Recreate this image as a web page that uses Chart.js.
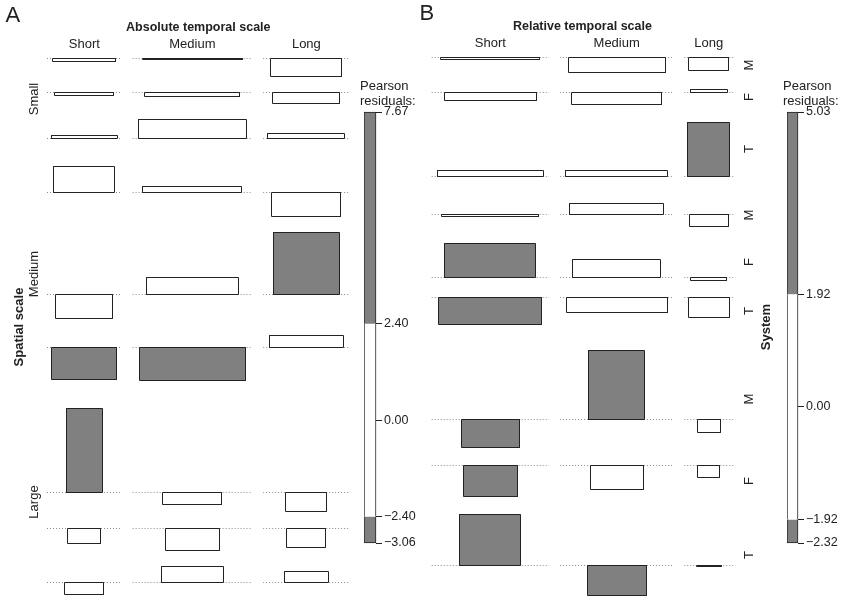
<!DOCTYPE html>
<html>
<head>
<meta charset="utf-8">
<title>Association plots: temporal scale vs spatial scale and system</title>
<script src="https://cdn.jsdelivr.net/npm/chart.js@4/dist/chart.umd.min.js"></script>
<style>
  html, body { margin: 0; padding: 0; background: #fff; }
  #fig { position: relative; width: 846px; height: 597px; overflow: hidden;
         font-family: "Liberation Sans", Arial, Helvetica, sans-serif; color: #222; }
  #fig canvas { position: absolute; }
  .lbl { position: absolute; white-space: nowrap; line-height: 1; }
</style>
</head>
<body>
<div id="fig">
  <canvas id="main" width="846" height="597" style="left:0;top:0"></canvas>
  <canvas id="legA" width="58" height="455"></canvas>
  <canvas id="legB" width="57" height="455"></canvas>
</div>
<script>
// ---------------- data ----------------
const temporalLevels = ['Short', 'Medium', 'Long'];
const spatialLevels = ['Small', 'Medium', 'Large'];
const systemLevels = ['M', 'F', 'T'];

// Absolute temporal scale: Pearson residuals per temporal column.
// Rows run spatial scale x system: Small M, Small F, Small T, Medium M, ... Large T
const absShortResid  = [-0.25, -0.25, 0.28, 2.35, -2.20, -2.95, 7.67, -1.45, -1.10];
const absMediumResid = [-0.10, -0.38, 1.73, 0.55, 1.60, -3.06, -1.10, -2.05, 1.45];
const absLongResid   = [-1.64, -1.00, 0.45, -2.20, 5.72, 1.10, -1.80, -1.75, 1.05];
// box widths (square root of the expected counts)
const absShortWidth  = [6.3, 5.9, 6.6, 6.1, 5.7, 6.5, 3.6, 3.3, 3.9];
const absMediumWidth = [10.0, 9.5, 10.8, 9.9, 9.2, 10.6, 5.9, 5.4, 6.2];
const absLongWidth   = [7.1, 6.7, 7.7, 6.9, 6.6, 7.4, 4.1, 3.9, 4.4];
const absLegendTicks = [7.67, 2.40, 0.00, -2.40, -3.06];

// Relative temporal scale
const relShortResid  = [-0.10, -0.60, 0.49, -0.15, 2.48, -1.95, -2.06, -2.32, 3.74];
const relMediumResid = [-1.06, -0.93, 0.49, 0.83, 1.36, -1.14, 5.03, -1.80, -2.20];
const relLongResid   = [-0.90, 0.19, 4.00, -0.85, -0.18, -1.48, -0.95, -0.90, -0.10];
const relShortWidth  = [9.9, 9.2, 10.6, 9.7, 9.1, 10.3, 5.8, 5.4, 6.1];
const relMediumWidth = [9.7, 9.0, 10.2, 9.4, 8.8, 10.1, 5.6, 5.3, 5.9];
const relLongWidth   = [4.0, 3.7, 4.2, 3.9, 3.6, 4.1, 2.3, 2.2, 2.5];
const relLegendTicks = [5.03, 1.92, 0.00, -1.92, -2.32];

// ---------------- styling / layout ----------------
const FONT = '"Liberation Sans", Arial, Helvetica, sans-serif';
const GRAY = '#808080';
const EDGE = '#222';
const DOTS = '#8a8a8a';
const W = 846, H = 597;
const PX_PER_WIDTH = 10;           // pixels per width unit, both panels

// Stack the rows (tallest positive part above, deepest negative part below)
// and place the column slots from their widest box, in data units.
function layoutPanel(p) {
  const nCols = p.resid.length, nRows = p.resid[0].length;
  const cols = [];
  let x = p.left / PX_PER_WIDTH;
  for (let c = 0; c < nCols; c++) {
    const slot = 1.07 * Math.max(...p.width[c]) + 0.4;
    cols.push({ x0: x, x1: x + slot, xc: x + slot / 2 });
    x += slot + p.gapCol / PX_PER_WIDTH;
  }
  const rows = [];
  let off = 0;
  for (let r = 0; r < nRows; r++) {
    if (r > 0) off += (r % systemLevels.length === 0 ? p.gapGroup : p.gapRow) / p.pxPerResid;
    const vals = p.resid.map(col => col[r]);
    const up = Math.max(0, ...vals), down = Math.max(0, ...vals.map(v => -v));
    off += up;
    const base = -off;
    rows.push({ base, top: base + up, bottom: base - down });
    off += down;
  }
  const yMax = p.top / p.pxPerResid;
  return Object.assign({ cols, rows, yMax, yMin: yMax - H / p.pxPerResid }, p);
}

const panelA = layoutPanel({
  resid: [absShortResid, absMediumResid, absLongResid],
  width: [absShortWidth, absMediumWidth, absLongWidth],
  ticks: absLegendTicks, pxPerResid: 10.9,
  left: 47, top: 58.5, gapRow: 16.3, gapGroup: 28, gapCol: 11, yID: 'yA'
});
const panelB = layoutPanel({
  resid: [relShortResid, relMediumResid, relLongResid],
  width: [relShortWidth, relMediumWidth, relLongWidth],
  ticks: relLegendTicks, pxPerResid: 13.72,
  left: 431.7, top: 57.7, gapRow: 17.2, gapGroup: 26.5, gapCol: 11, yID: 'yB'
});

function panelDatasets(p) {
  const hi = p.ticks[1], lo = p.ticks[3];
  // keep 1px strokes on pixel centres so the edges stay crisp
  const snapX = v => (Math.round(v * PX_PER_WIDTH - 0.5) + 0.5) / PX_PER_WIDTH;
  const snapY = v => {
    const pix = (p.yMax - v) * p.pxPerResid;
    return p.yMax - (Math.round(pix - 0.5) + 0.5) / p.pxPerResid;
  };
  const boxes = [], lines = [];
  p.rows.forEach((row, r) => {
    p.cols.forEach((col, c) => {
      const v = p.resid[c][r], w = p.width[c][r];
      const x0 = snapX(col.xc - w / 2), x1 = snapX(col.xc + w / 2);
      const y0 = snapY(row.base), y1 = snapY(row.base + v);
      boxes.push({
        type: 'line',
        data: [{ x: x0, y: y0 }, { x: x1, y: y0 }, { x: x1, y: y1 }, { x: x0, y: y1 }, { x: x0, y: y0 }],
        fill: 'shape',
        backgroundColor: (v > hi || v < lo) ? GRAY : '#ffffff',
        borderColor: EDGE, borderWidth: 1, borderJoinStyle: 'miter',
        pointRadius: 0, tension: 0, clip: false, order: 0,
        xAxisID: 'x', yAxisID: p.yID
      });
      lines.push({
        type: 'line',
        data: [{ x: col.x0, y: y0 }, { x: col.x1, y: y0 }],
        fill: false, borderColor: DOTS, borderWidth: 1, borderDash: [1, 2],
        pointRadius: 0, tension: 0, clip: false, order: 1,
        xAxisID: 'x', yAxisID: p.yID
      });
    });
  });
  return boxes.concat(lines);
}

const mainChart = new Chart(document.getElementById('main'), {
  type: 'line',
  data: { datasets: panelDatasets(panelA).concat(panelDatasets(panelB)) },
  options: {
    responsive: false, animation: false, events: [], devicePixelRatio: 1,
    layout: { padding: 0 },
    plugins: { legend: { display: false }, tooltip: { enabled: false } },
    scales: {
      x:  { type: 'linear', display: false, min: 0, max: W / PX_PER_WIDTH },
      yA: { type: 'linear', display: false, min: panelA.yMin, max: panelA.yMax },
      yB: { type: 'linear', display: false, min: panelB.yMin, max: panelB.yMax }
    }
  }
});

// ---------------- shading legends ----------------
function fmt(v) {
  return (v < 0 ? '\u2212' : '') + Math.abs(v).toFixed(2);
}
function legendChart(id, ticks, left, top) {
  const el = document.getElementById(id);
  el.style.left = left + 'px';
  el.style.top = top + 'px';
  const seg = (range, color, bw) => ({
    data: [range], backgroundColor: color, borderColor: EDGE,
    borderWidth: bw, borderSkipped: false, clip: false,
    barPercentage: 1, categoryPercentage: 1, grouped: false
  });
  return new Chart(el, {
    type: 'bar',
    data: {
      labels: [''],
      datasets: [
        seg([ticks[1], ticks[0]], GRAY, { top: 1, left: 1, right: 1, bottom: 0 }),
        seg([ticks[3], ticks[1]], '#ffffff', { top: 0, left: 1, right: 1, bottom: 0 }),
        seg([ticks[4], ticks[3]], GRAY, { top: 0, left: 1, right: 1, bottom: 1 })
      ]
    },
    options: {
      responsive: false, animation: false, events: [], devicePixelRatio: 1,
      layout: { padding: { top: 12, bottom: 12, left: 0, right: 0 } },
      plugins: { legend: { display: false }, tooltip: { enabled: false } },
      scales: {
        x: { display: false },
        y: {
          position: 'right', min: ticks[4], max: ticks[0],
          afterBuildTicks: s => { s.ticks = ticks.map(v => ({ value: v })); },
          afterFit: s => { s.width = 46; },
          ticks: { callback: v => fmt(v), color: '#222', padding: 2,
                   font: { family: FONT, size: 12.5 } },
          grid: { drawOnChartArea: false, drawTicks: true, tickLength: 6,
                  color: EDGE, tickColor: EDGE, lineWidth: 1 },
          border: { display: false }
        }
      }
    }
  });
}
const legA = legendChart('legA', absLegendTicks, 364, 100);
const legB = legendChart('legB', relLegendTicks, 787, 100);

// ---------------- text ----------------
const fig = document.getElementById('fig');
function addText(txt, cx, cy, o = {}) {
  const d = document.createElement('div');
  d.className = 'lbl';
  d.textContent = txt;
  d.style.fontSize = (o.size || 13) + 'px';
  if (o.bold) d.style.fontWeight = 'bold';
  d.style.left = cx + 'px';
  d.style.top = cy + 'px';
  const ax = o.align === 'left' ? '0' : '-50%';
  d.style.transform = 'translate(' + ax + ',-50%)' + (o.rotate ? ' rotate(-90deg)' : '');
  fig.appendChild(d);
}

function panelText(p, chart, tag, tagPos, title, leftLabels, leftTitle, rightLabels, rightTitle) {
  const sx = chart.scales.x, sy = chart.scales[p.yID];
  const px = v => sx.getPixelForValue(v);
  const py = v => sy.getPixelForValue(v);
  const plotL = px(p.cols[0].x0), plotR = px(p.cols[p.cols.length - 1].x1);
  const plotT = py(p.rows[0].top), plotB = py(p.rows[p.rows.length - 1].bottom);
  addText(tag, tagPos[0], tagPos[1], { size: 22, align: 'left' });
  addText(title, (plotL + plotR) / 2, plotT - 31.5, { bold: true, size: 12.5 });
  p.cols.forEach((c, i) => addText(temporalLevels[i], px(c.xc), plotT - 15.5));
  const k = systemLevels.length;
  if (leftLabels) {
    leftLabels.forEach((lab, g) => {
      const t = py(p.rows[g * k].top), b = py(p.rows[g * k + k - 1].bottom);
      addText(lab, plotL - 14.5, (t + b) / 2, { rotate: true });
    });
    addText(leftTitle, plotL - 29.5, (plotT + plotB) / 2, { rotate: true, bold: true });
  }
  if (rightLabels) {
    p.rows.forEach((row, r) => {
      addText(rightLabels[r % k], plotR + 15, (py(row.top) + py(row.bottom)) / 2, { rotate: true });
    });
    addText(rightTitle, plotR + 32, (plotT + plotB) / 2, { rotate: true, bold: true });
  }
}
panelText(panelA, mainChart, 'A', [5.5, 15.3], 'Absolute temporal scale',
          spatialLevels, 'Spatial scale', null, null);
panelText(panelB, mainChart, 'B', [419.5, 12.5], 'Relative temporal scale',
          null, null, systemLevels, 'System');

function legendText(chart, canvasLeft, canvasTop) {
  const a = chart.chartArea;
  addText('Pearson', canvasLeft + a.left - 4, canvasTop + a.top - 27, { align: 'left' });
  addText('residuals:', canvasLeft + a.left - 4, canvasTop + a.top - 12.5, { align: 'left' });
}
legendText(legA, 364, 100);
legendText(legB, 787, 100);
</script>
</body>
</html>
